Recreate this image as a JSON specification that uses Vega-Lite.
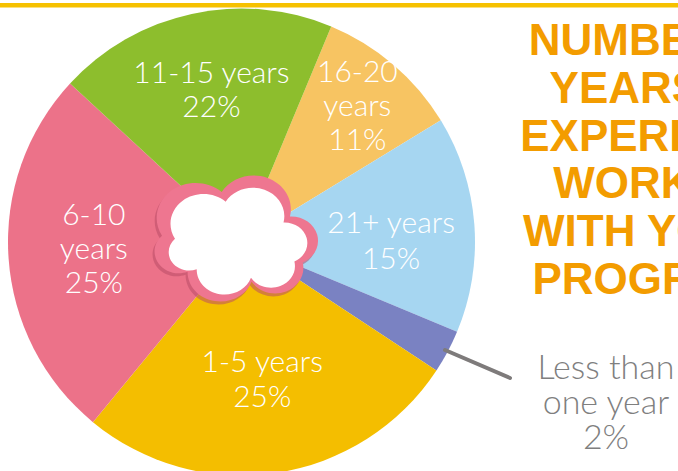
{
  "$schema": "https://vega.github.io/schema/vega-lite/v6.json",
  "width": 483,
  "height": 458,
  "autosize": "none",
  "padding": {"left": 0, "top": 13, "right": 195, "bottom": 0},
  "background": "white",
  "config": {"view": {"stroke": null}},
  "data": {
    "values": [
      {"cat": "16-20 years", "share": 10.0, "rank": 1, "label": "16-20\nyears\n11%"},
      {"cat": "21+ years", "share": 15.0, "rank": 2, "label": "21+ years\n15%"},
      {"cat": "Less than one year", "share": 3.0, "rank": 3, "label": "Less than\none year\n2%"},
      {"cat": "1-5 years", "share": 26.7, "rank": 4, "label": "1-5 years\n25%"},
      {"cat": "6-10 years", "share": 25.9, "rank": 5, "label": "6-10\nyears\n25%"},
      {"cat": "11-15 years", "share": 19.4, "rank": 6, "label": "11-15 years\n22%"}
    ]
  },
  "layer": [
    {
      "mark": {"type": "arc", "outerRadius": 233.5},
      "encoding": {
        "theta": {"field": "share", "type": "quantitative", "stack": true, "scale": {"domain": [0, 100], "range": [0.3944, 6.6776]}},
        "order": {"field": "rank", "type": "quantitative"},
        "color": {
          "field": "cat", "type": "nominal", "legend": null,
          "scale": {
            "domain": ["16-20 years", "21+ years", "Less than one year", "1-5 years", "6-10 years", "11-15 years"],
            "range": ["#F7C462", "#A6D6F1", "#7A82C2", "#F4BE00", "#EC7289", "#8DBE2D"]
          }
        }
      }
    },
    {
      "mark": {"type": "text", "radius": 155, "dy": -17, "dx": 3, "font": "Lato", "fontWeight": 300, "fontSize": 30, "lineBreak": "\n", "lineHeight": 34, "color": "white", "align": "center", "baseline": "middle"},
      "encoding": {
        "theta": {"field": "share", "type": "quantitative", "stack": true},
        "order": {"field": "rank", "type": "quantitative"},
        "text": {"condition": {"test": "datum.cat === '11-15 years'", "field": "label"}, "value": ""}
      }
    },
    {
      "mark": {"type": "text", "radius": 150, "dy": -6, "font": "Lato", "fontWeight": 300, "fontSize": 30, "lineBreak": "\n", "lineHeight": 36, "color": "white", "align": "center", "baseline": "middle"},
      "encoding": {
        "theta": {"field": "share", "type": "quantitative", "stack": true},
        "order": {"field": "rank", "type": "quantitative"},
        "text": {"condition": {"test": "datum.cat === '21+ years'", "field": "label"}, "value": ""}
      }
    },
    {
      "mark": {"type": "text", "radius": 140, "dy": -17, "font": "Lato", "fontWeight": 300, "fontSize": 30, "lineBreak": "\n", "lineHeight": 35, "color": "white", "align": "center", "baseline": "middle"},
      "encoding": {
        "theta": {"field": "share", "type": "quantitative", "stack": true},
        "order": {"field": "rank", "type": "quantitative"},
        "text": {"condition": {"test": "datum.cat === '1-5 years'", "field": "label"}, "value": ""}
      }
    },
    {
      "mark": {"type": "text", "radius": 148, "dy": -36, "font": "Lato", "fontWeight": 300, "fontSize": 30, "lineBreak": "\n", "lineHeight": 34, "color": "white", "align": "center", "baseline": "middle"},
      "encoding": {
        "theta": {"field": "share", "type": "quantitative", "stack": true},
        "order": {"field": "rank", "type": "quantitative"},
        "text": {"condition": {"test": "datum.cat === '6-10 years'", "field": "label"}, "value": ""}
      }
    },
    {
      "mark": {"type": "text", "radius": 178, "dy": -34, "font": "Lato", "fontWeight": 300, "fontSize": 30, "lineBreak": "\n", "lineHeight": 34, "color": "white", "align": "center", "baseline": "middle"},
      "encoding": {
        "theta": {"field": "share", "type": "quantitative", "stack": true},
        "order": {"field": "rank", "type": "quantitative"},
        "text": {"condition": {"test": "datum.cat === '16-20 years'", "field": "label"}, "value": ""}
      }
    },
    {
      "data": {"values": [{"part": "cloud shadow"}]},
      "mark": {"type": "point", "filled": true, "shape": "M-0.85 -0.045A0.457 0.411 0 0 1 -0.15 -0.558A0.436 0.392 0 0 1 0.65 -0.27A0.315 0.284 0 0 1 0.8 0.27A0.33 0.297 0 0 1 0.2 0.495A0.386 0.347 0 0 1 -0.55 0.378A0.284 0.256 0 0 1 -0.85 -0.045Z", "size": 29100, "color": "#B94D66", "opacity": 0.55},
      "encoding": {"x": {"value": 232.5}, "y": {"value": 229.5}}
    },
    {
      "data": {"values": [{"part": "cloud"}]},
      "mark": {"type": "point", "filled": true, "shape": "M-0.85 -0.045A0.457 0.411 0 0 1 -0.15 -0.558A0.436 0.392 0 0 1 0.65 -0.27A0.315 0.284 0 0 1 0.8 0.27A0.33 0.297 0 0 1 0.2 0.495A0.386 0.347 0 0 1 -0.55 0.378A0.284 0.256 0 0 1 -0.85 -0.045Z", "size": 29100, "color": "#EE7690", "opacity": 1},
      "encoding": {"x": {"value": 234.5}, "y": {"value": 226.5}}
    },
    {
      "data": {"values": [{"part": "cloud inner"}]},
      "mark": {"type": "point", "filled": true, "shape": "M-0.85 -0.045A0.457 0.411 0 0 1 -0.15 -0.558A0.436 0.392 0 0 1 0.65 -0.27A0.315 0.284 0 0 1 0.8 0.27A0.33 0.297 0 0 1 0.2 0.495A0.386 0.347 0 0 1 -0.55 0.378A0.284 0.256 0 0 1 -0.85 -0.045Z", "size": 20940, "color": "white", "opacity": 1},
      "encoding": {"x": {"value": 236.5}, "y": {"value": 229}}
    },
    {
      "data": {"values": [{"part": "top line"}]},
      "mark": {"type": "rule", "color": "#F6C100", "strokeWidth": 4.4},
      "encoding": {"x": {"value": 0}, "x2": {"value": 678}, "y": {"value": -7.8}}
    },
    {
      "data": {"values": [{"part": "leader"}]},
      "mark": {"type": "rule", "color": "#7E7B7B", "strokeWidth": 4, "strokeCap": "round"},
      "encoding": {"x": {"value": 445}, "x2": {"value": 510}, "y": {"value": 337}, "y2": {"value": 365}}
    },
    {
      "transform": [{"filter": "datum.cat === 'Less than one year'"}],
      "mark": {"type": "text", "dy": -35, "font": "Lato", "fontWeight": 300, "fontSize": 34, "lineBreak": "\n", "lineHeight": 35, "color": "#7F7F7F", "align": "center", "baseline": "middle"},
      "encoding": {"x": {"value": 606}, "y": {"value": 391}, "text": {"field": "label"}}
    },
    {
      "data": {"values": [{"part": "title"}]},
      "mark": {"type": "text", "text": ["NUMBER OF", "YEARS OF", "EXPERIENCE", "WORKING", "WITH YOUTH", "PROGRAMS"], "font": "Liberation Sans", "fontWeight": "bold", "fontSize": 44, "lineHeight": 47.8, "color": "#F39C00", "align": "center", "baseline": "alphabetic"},
      "encoding": {"x": {"value": 662}, "y": {"value": 42}}
    }
  ]
}
